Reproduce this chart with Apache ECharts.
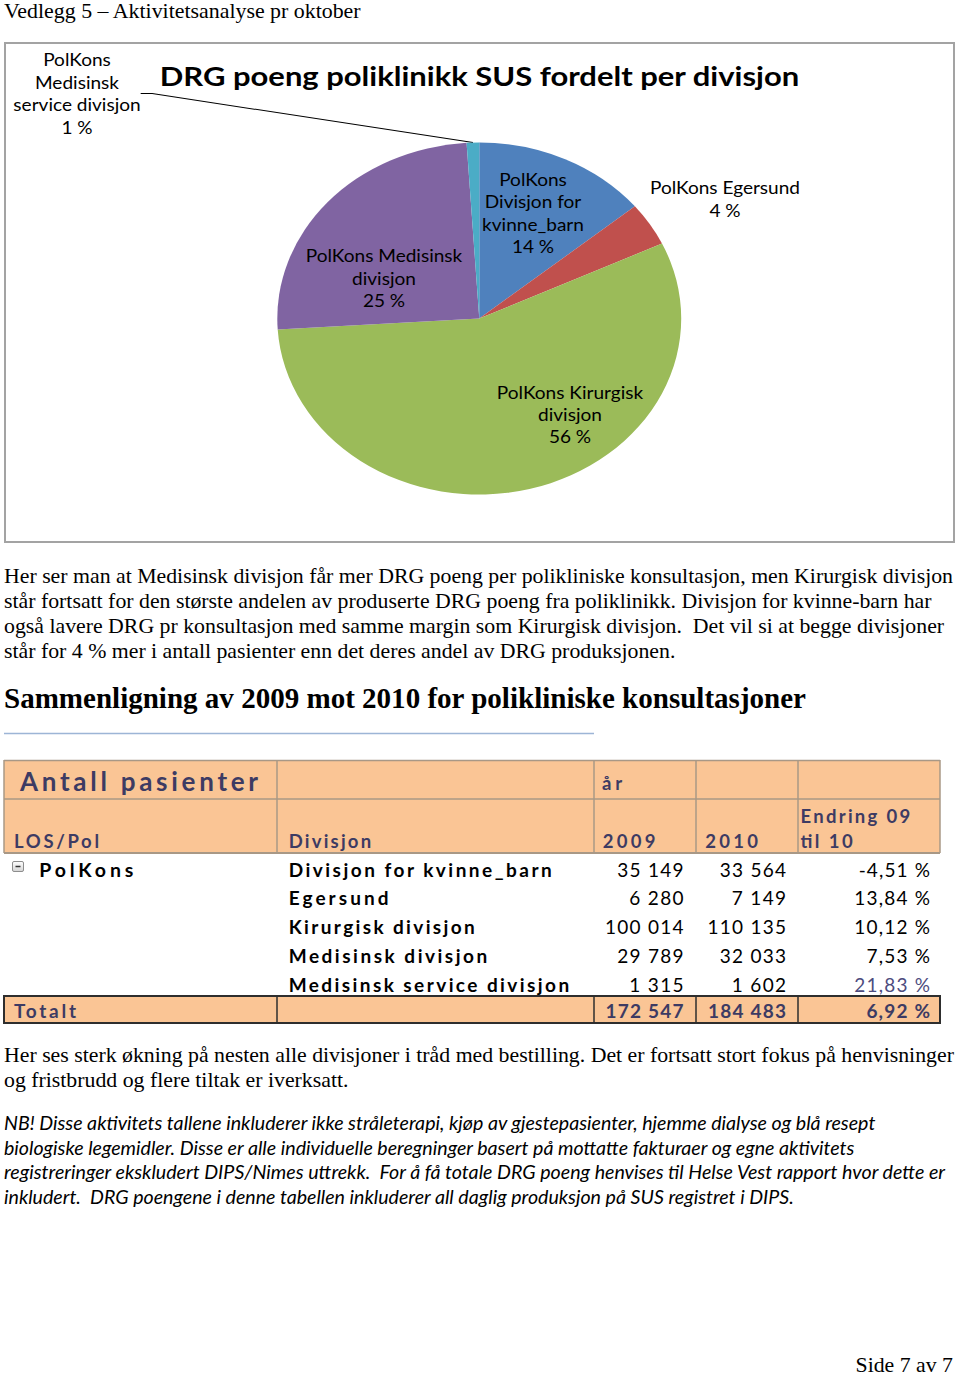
<!DOCTYPE html>
<html><head><meta charset="utf-8">
<script src="https://cdn.jsdelivr.net/npm/echarts@6/dist/echarts.min.js"></script>
<style>
html,body{margin:0;padding:0;background:#fff;}
#page{position:relative;width:960px;height:1378px;overflow:hidden;background:#fff;}
#doc{position:absolute;left:0;top:0;}
#doc text{white-space:pre;}
#chart{position:absolute;left:5px;top:43px;width:827px;height:499px;transform:scaleX(1.1475);transform-origin:0 0;}
</style></head><body>
<div id="page"><svg id="doc" width="960" height="1378" xmlns="http://www.w3.org/2000/svg"></svg><div id="chart"></div></div>
<script>
// ---------- DATA ----------
const pieTitle = 'DRG poeng poliklinikk SUS fordelt per divisjon';
const pieNames = ['PolKons Divisjon for kvinne_barn', 'PolKons Egersund', 'PolKons Kirurgisk divisjon', 'PolKons Medisinsk divisjon', 'PolKons Medisinsk service divisjon'];
const pieShares = [14, 4, 56, 25, 1];
const pieLabelLines = [['PolKons', 'Divisjon for', 'kvinne_barn'], ['PolKons Egersund'], ['PolKons Kirurgisk', 'divisjon'], ['PolKons Medisinsk', 'divisjon'], ['PolKons', 'Medisinsk', 'service divisjon']];

const tableTitle = 'Antall pasienter';
const yearHeader = 'år';
const colHeaders = ['LOS/Pol', 'Divisjon', '2009', '2010'];
const changeHeader = ['Endring 09', 'til 10'];
const groupName = 'PolKons';
const divisions = ['Divisjon for kvinne_barn', 'Egersund', 'Kirurgisk divisjon', 'Medisinsk divisjon', 'Medisinsk service divisjon'];
const patients2009 = [35149, 6280, 100014, 29789, 1315];
const patients2010 = [33564, 7149, 110135, 32033, 1602];
const changePct = [-4.51, 13.84, 10.12, 7.53, 21.83];
const totalLabel = 'Totalt';
const totals = [172547, 184483];
const totalChangePct = 6.92;

const headerLine = 'Vedlegg 5 – Aktivitetsanalyse pr oktober';
const para1 = [
  'Her ser man at Medisinsk divisjon får mer DRG poeng per polikliniske konsultasjon, men Kirurgisk divisjon',
  'står fortsatt for den største andelen av produserte DRG poeng fra poliklinikk. Divisjon for kvinne-barn har',
  'også lavere DRG pr konsultasjon med samme margin som Kirurgisk divisjon.  Det vil si at begge divisjoner',
  'står for 4 % mer i antall pasienter enn det deres andel av DRG produksjonen.'
];
const heading = 'Sammenligning av 2009 mot 2010 for polikliniske konsultasjoner';
const para2 = [
  'Her ses sterk økning på nesten alle divisjoner i tråd med bestilling. Det er fortsatt stort fokus på henvisninger',
  'og fristbrudd og flere tiltak er iverksatt.'
];
const noteLines = [
  'NB! Disse aktivitets tallene inkluderer ikke stråleterapi, kjøp av gjestepasienter, hjemme dialyse og blå resept',
  'biologiske legemidler. Disse er alle individuelle beregninger basert på mottatte fakturaer og egne aktivitets',
  'registreringer ekskludert DIPS/Nimes uttrekk.  For å få totale DRG poeng henvises til Helse Vest rapport hvor dette er',
  'inkludert.  DRG poengene i denne tabellen inkluderer all daglig produksjon på SUS registret i DIPS.'
];
const footer = 'Side 7 av 7';

// ---------- HELPERS ----------
const NS = 'http://www.w3.org/2000/svg';
const svg = document.getElementById('doc');
function el(tag, attrs) { const e = document.createElementNS(NS, tag); for (const k in attrs) e.setAttribute(k, attrs[k]); svg.appendChild(e); return e; }
const ctx = document.createElement('canvas').getContext('2d');
function fontStr(f) { return (f.style || 'normal') + ' ' + (f.weight || 'normal') + ' ' + f.size + 'px "' + f.family + '"'; }
function textW(t, f) { ctx.font = fontStr(f); return ctx.measureText(t).width; }
function factorFor(t, f, target) { return target / textW(t, f); }
function put(t, f, y, opt) {
  const nat = textW(t, f);
  const w = opt.w || nat * (opt.factor || 1);
  const x = opt.right != null ? opt.right - w : opt.x;
  const e = el('text', { x: x, y: y, fill: opt.fill || '#000', 'font-family': f.family, 'font-size': f.size,
    'font-weight': f.weight || 'normal', 'font-style': f.style || 'normal', textLength: w.toFixed(2),
    lengthAdjust: opt.adjust || 'spacingAndGlyphs' });
  e.setAttributeNS('http://www.w3.org/XML/1998/namespace', 'xml:space', 'preserve');
  e.textContent = t;
  return e;
}
function fmtInt(n) { return String(n).replace(/\B(?=(\d{3})+(?!\d))/g, ' '); }
function fmtPct(v) { return v.toFixed(2).replace('.', ',') + ' %'; }

// ---------- DOCUMENT TEXT ----------
const serif = { family: 'Liberation Serif', size: 21.5 };
const serifB = { family: 'Liberation Serif', size: 28.5, weight: 'bold' };
const noteF = { family: 'Lato', size: 19.5, style: 'italic' };
const kBody = factorFor(para1[0], serif, 949);
put(headerLine, serif, 18, { x: 4, factor: kBody });
para1.forEach((l, i) => put(l, serif, 583 + i * 25, { x: 4, factor: kBody }));
put(heading, serifB, 708, { x: 4, w: 802 });
el('line', { x1: 4, y1: 733.5, x2: 594, y2: 733.5, stroke: '#9db5d6', 'stroke-width': 1.5 });
para2.forEach((l, i) => put(l, serif, 1062 + i * 25, { x: 4, factor: kBody }));
const kNote = factorFor(noteLines[2], noteF, 941);
noteLines.forEach((l, i) => put(l, noteF, 1130 + i * 24.5, { x: 4, factor: kNote }));
put(footer, serif, 1372, { right: 953, factor: kBody });

// chart frame
el('rect', { x: 5, y: 43, width: 949, height: 499, fill: 'none', stroke: '#a3a3a3', 'stroke-width': 2 });

// ---------- TABLE ----------
const cols = [4, 277, 594, 696, 798, 940];
const tTop = 760, tR1 = 799, tHdrB = 853, totTop = 996, totBot = 1023;
const peach = '#FAC595', hdrLine = '#a89886', slate = '#3d3b63';
el('rect', { x: cols[0], y: tTop, width: cols[5] - cols[0], height: tHdrB - tTop, fill: peach });
el('rect', { x: cols[0], y: totTop, width: cols[5] - cols[0], height: totBot - totTop, fill: peach });
[tTop + 0.5, tR1, tHdrB].forEach((y, i) => el('line', { x1: cols[0], y1: y, x2: cols[5], y2: y, stroke: hdrLine, 'stroke-width': i === 2 ? 2 : 1.5 }));
cols.forEach(x => el('line', { x1: x, y1: tTop, x2: x, y2: tHdrB, stroke: hdrLine, 'stroke-width': 1.5 }));
el('rect', { x: cols[0], y: totTop, width: cols[5] - cols[0], height: totBot - totTop, fill: 'none', stroke: '#2e2e2e', 'stroke-width': 2 });
cols.slice(1, 5).forEach(x => el('line', { x1: x, y1: totTop, x2: x, y2: totBot, stroke: '#2e2e2e', 'stroke-width': 1.5 }));

const bigF = { family: 'Lato', size: 26, weight: 'bold' };
const hdrF = { family: 'Lato', size: 18.5, weight: 'bold' };
const nameF = { family: 'Lato', size: 19, weight: 'bold' };
const numF = { family: 'Lato', size: 19 };
const totF = { family: 'Lato', size: 19, weight: 'bold' };
put(tableTitle, bigF, 790.5, { x: 20, w: 238, adjust: 'spacing', fill: slate });
const kHdr = factorFor(colHeaders[0], hdrF, 85);
put(yearHeader, hdrF, 790, { x: 602, factor: kHdr, adjust: 'spacing', fill: slate });
put(colHeaders[0], hdrF, 848, { x: 14, factor: kHdr, adjust: 'spacing', fill: slate });
put(colHeaders[1], hdrF, 848, { x: 288.7, factor: kHdr, adjust: 'spacing', fill: slate });
put(colHeaders[2], hdrF, 848, { x: 602.7, factor: kHdr, adjust: 'spacing', fill: slate });
put(colHeaders[3], hdrF, 848, { x: 705.3, factor: kHdr, adjust: 'spacing', fill: slate });
put(changeHeader[0], hdrF, 822.5, { x: 800.5, factor: kHdr, adjust: 'spacing', fill: slate });
put(changeHeader[1], hdrF, 848, { x: 800.5, factor: kHdr, adjust: 'spacing', fill: slate });

// expand icon + group
const grad = el('linearGradient', { id: 'ig', x1: 0, y1: 0, x2: 0, y2: 1 });
grad.innerHTML = '<stop offset="0" stop-color="#ffffff"/><stop offset="1" stop-color="#d4d4d4"/>';
el('rect', { x: 12.5, y: 861.5, width: 11, height: 10, rx: 1.5, fill: 'url(#ig)', stroke: '#8d8d8d', 'stroke-width': 1 });
el('line', { x1: 15.5, y1: 866.5, x2: 20.5, y2: 866.5, stroke: '#333', 'stroke-width': 1.5 });
put(groupName, { family: 'Lato', size: 19.5, weight: 'bold' }, 876.7, { x: 39.3, w: 94, adjust: 'spacing' });

const kName = factorFor(divisions[0], nameF, 263);
const kNum = factorFor(fmtInt(patients2009[2]), numF, 78.5);
divisions.forEach((d, i) => {
  const y = 876.7 + i * 28.75;
  put(d, nameF, y, { x: 288.7, factor: kName, adjust: 'spacing' });
  put(fmtInt(patients2009[i]), numF, y, { right: 683.5, factor: kNum, adjust: 'spacing' });
  put(fmtInt(patients2010[i]), numF, y, { right: 786, factor: kNum, adjust: 'spacing' });
  put(fmtPct(changePct[i]), numF, y, { right: 930, factor: kNum, adjust: 'spacing', fill: i === 4 ? '#4d4c7e' : '#000' });
});
const kTot = factorFor(totalLabel, totF, 62);
const kTotNum = factorFor(fmtInt(totals[0]), totF, 78);
put(totalLabel, totF, 1018, { x: 14, factor: kTot, adjust: 'spacing', fill: slate });
put(fmtInt(totals[0]), totF, 1018, { right: 683.5, factor: kTotNum, adjust: 'spacing', fill: slate });
put(fmtInt(totals[1]), totF, 1018, { right: 786, factor: kTotNum, adjust: 'spacing', fill: slate });
put(fmtPct(totalChangePct), totF, 1018, { right: 930, factor: kTotNum, adjust: 'spacing', fill: slate });

// ---------- PIE CHART ----------
const S = 1.1475, CX0 = 5, CY0 = 43;
const labelPagePos = [[533, 213], [725, 199], [570, 414.5], [384, 278], [77, 93.5]];
const chart = echarts.init(document.getElementById('chart'), null, { renderer: 'svg', width: 827, height: 499 });
chart.setOption({
  animation: false,
  backgroundColor: 'transparent',
  title: { text: pieTitle, left: 'center', top: 14, textStyle: { fontFamily: 'Lato', fontWeight: 'bold', fontSize: 27, color: '#000' } },
  color: ['#4F81BD', '#C0504D', '#9BBB59', '#8064A2', '#4BACC6'],
  series: [{
    type: 'pie', center: [413.3, 275.5], radius: 176, startAngle: 90, clockwise: true,
    avoidLabelOverlap: false,
    data: pieNames.map((n, i) => ({
      name: n, value: pieShares[i],
      label: { position: i === 4 ? 'outside' : 'inside' },
      labelLine: { show: i === 4, length: 10, length2: 10, smooth: false, lineStyle: { color: '#000', width: 1 } }
    })),
    itemStyle: { borderWidth: 0 },
    label: {
      show: true,
      formatter: p => pieLabelLines[p.dataIndex].join('\n') + '\n' + Math.round(p.percent) + ' %',
      color: '#000', fontFamily: 'Lato', fontSize: 16.6, lineHeight: 22.5, align: 'center'
    },
    emphasis: { disabled: true },
    labelLayout: p => {
      const pos = labelPagePos[p.dataIndex];
      return { x: (pos[0] - CX0) / S, y: pos[1] - CY0, align: 'center', verticalAlign: 'middle' };
    }
  }]
});
</script>
</body></html>
